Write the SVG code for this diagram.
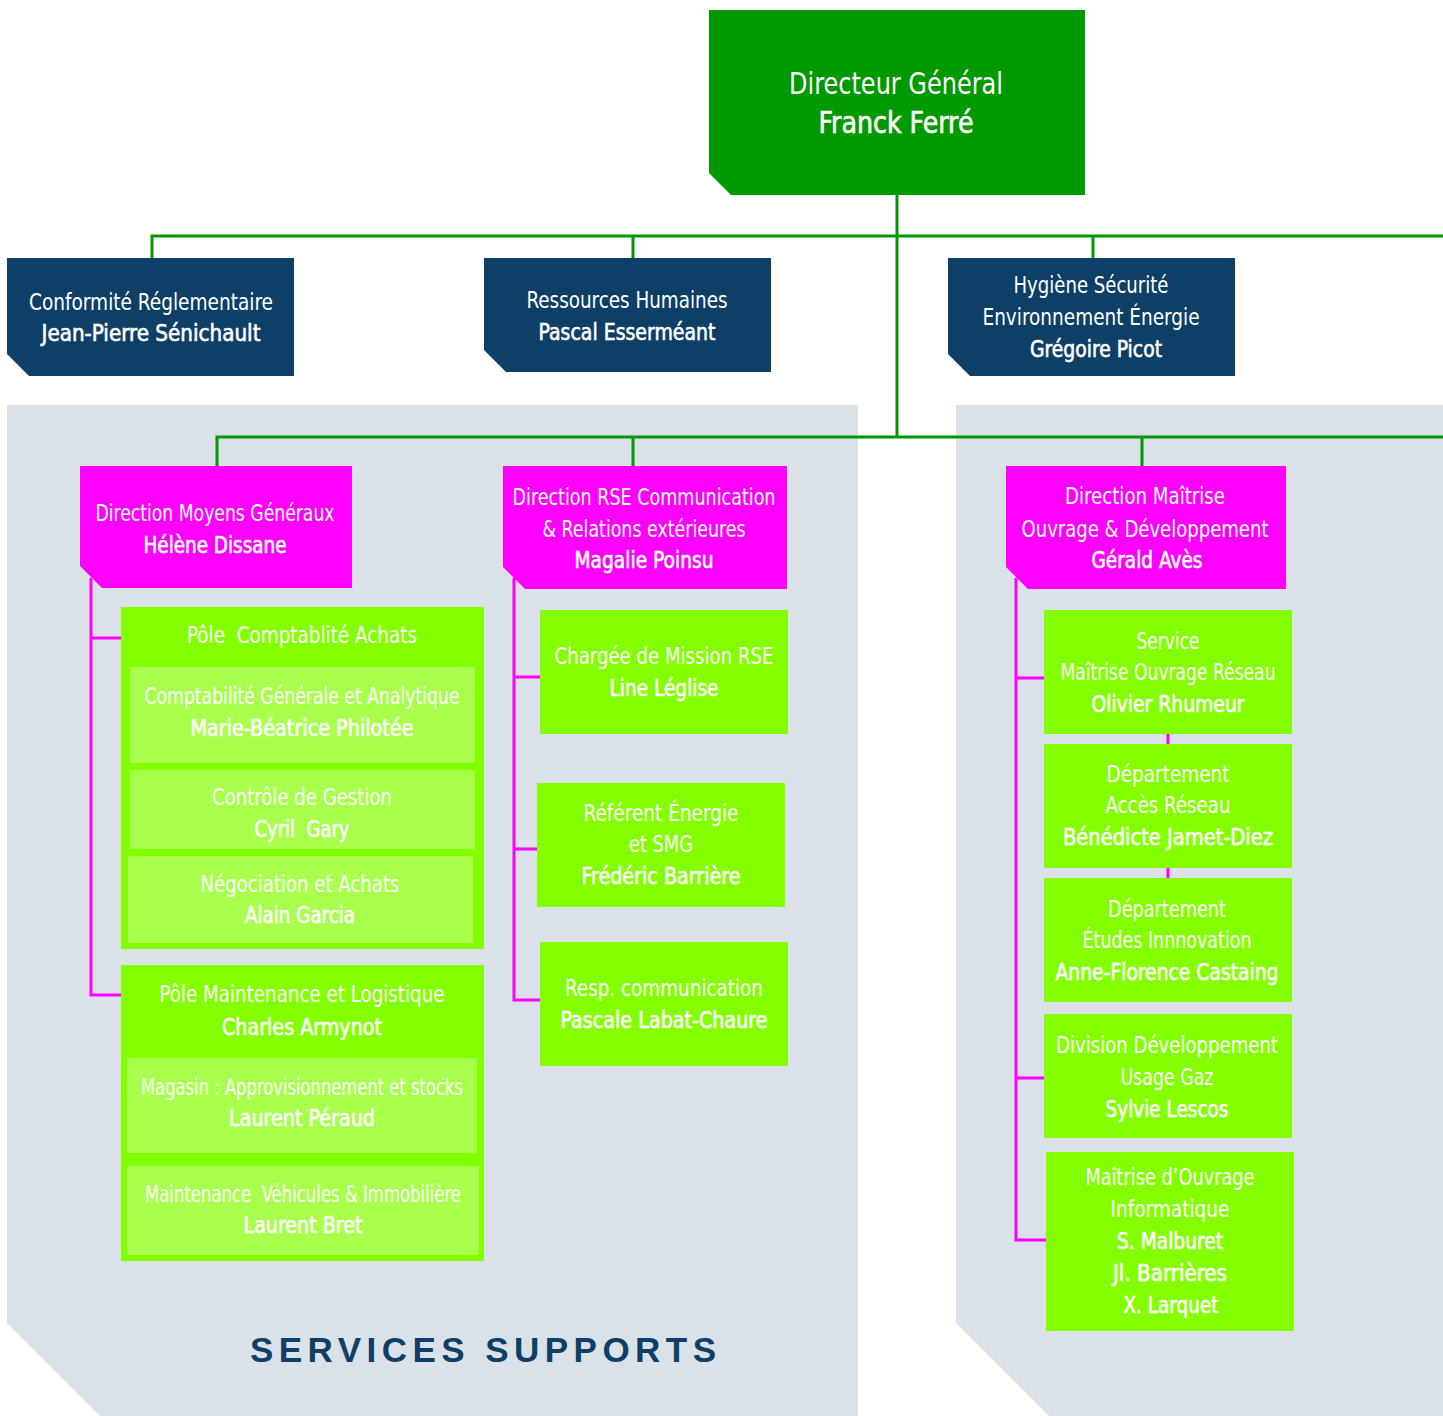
<svg xmlns="http://www.w3.org/2000/svg" width="1443" height="1416" viewBox="0 0 1443 1416">
<defs><style>
.t{font-family:'Liberation Sans Narrow','DejaVu Sans Condensed','Liberation Sans',Arial,sans-serif;font-size:23px;fill:#fff;text-anchor:middle}
.b{stroke:#fff;stroke-width:0.6px}
.big{font-size:30px}
.g1{fill:#009900}
.nv{fill:#0e3f66}
.mg{fill:#ff00ff}
.lg{fill:#84ff00}
.lt{fill:#a8ff4c}
.panel{fill:#dae1e8}
.cg{stroke:#009900;stroke-width:3;fill:none}
.cm{stroke:#ff00ff;stroke-width:3;fill:none}
.ss{font-family:'Liberation Sans',Arial,sans-serif;font-weight:bold;font-size:35px;fill:#0e3f66;text-anchor:middle}
</style></defs>
<rect width="1443" height="1416" fill="#ffffff"/>
<g id="panels">
<path class="panel" d="M7 405 H858 V1416 H100 L7 1323 Z"/>
<path class="panel" d="M956 405 H1443 V1416 H1049 L956 1323 Z"/>
<text class="ss" x="483" y="1362" textLength="466" lengthAdjust="spacing">SERVICES SUPPORTS</text>
</g>
<g id="connectors">
<path class="cg" d="M897 195 V437 M152 258 V236 H1443 M633 236 V258 M1093 236 V258 M217 466 V437 H1443 M633 437 V466 M1142 437 V466"/>
<path class="cm" d="M91 578 V995 H121 M91 638 H121"/>
<path class="cm" d="M514 578 V1000 H540 M514 677 H540 M514 849 H537"/>
<path class="cm" d="M1016 578 V1240 H1046 M1016 678 H1044 M1016 1078 H1044"/>
<path class="cm" d="M1168 733 V745 M1168 867 V879"/>
</g>
<g id="dg">
<path class="g1" d="M709 10 H1085 V195 H731 L709 173 Z"/>
<text class="t big" x="896" y="94" textLength="214" lengthAdjust="spacingAndGlyphs">Directeur Général</text>
<text class="t big b" x="896" y="133" textLength="155" lengthAdjust="spacingAndGlyphs">Franck Ferré</text>
</g>
<g id="conformite">
<path class="nv" d="M7 258 H294 V376 H29 L7 354 Z"/>
<text class="t" x="151" y="310" textLength="244" lengthAdjust="spacingAndGlyphs">Conformité Réglementaire</text>
<text class="t b" x="151" y="341" textLength="219" lengthAdjust="spacingAndGlyphs">Jean-Pierre Sénichault</text>
</g>
<g id="rh">
<path class="nv" d="M484 258 H771 V372 H506 L484 350 Z"/>
<text class="t" x="627" y="308" textLength="201" lengthAdjust="spacingAndGlyphs">Ressources Humaines</text>
<text class="t b" x="627" y="340" textLength="177" lengthAdjust="spacingAndGlyphs">Pascal Esserméant</text>
</g>
<g id="hse">
<path class="nv" d="M948 258 H1235 V376 H970 L948 354 Z"/>
<text class="t" x="1091" y="293" textLength="155" lengthAdjust="spacingAndGlyphs">Hygiène Sécurité</text>
<text class="t" x="1091" y="325" textLength="217" lengthAdjust="spacingAndGlyphs">Environnement Énergie</text>
<text class="t b" x="1096" y="357" textLength="132" lengthAdjust="spacingAndGlyphs">Grégoire Picot</text>
</g>
<g id="dmg">
<path class="mg" d="M80 466 H352 V588 H102 L80 566 Z"/>
<text class="t" x="215" y="521" textLength="239" lengthAdjust="spacingAndGlyphs">Direction Moyens Généraux</text>
<text class="t b" x="215" y="553" textLength="143" lengthAdjust="spacingAndGlyphs">Hélène Dissane</text>
</g>
<g id="drse">
<path class="mg" d="M503 466 H787 V589 H525 L503 567 Z"/>
<text class="t" x="644" y="505" textLength="263" lengthAdjust="spacingAndGlyphs">Direction RSE Communication</text>
<text class="t" x="644" y="537" textLength="203" lengthAdjust="spacingAndGlyphs">&amp; Relations extérieures</text>
<text class="t b" x="644" y="568" textLength="139" lengthAdjust="spacingAndGlyphs">Magalie Poinsu</text>
</g>
<g id="dmod">
<path class="mg" d="M1006 466 H1286 V589 H1028 L1006 567 Z"/>
<text class="t" x="1145" y="504" textLength="160" lengthAdjust="spacingAndGlyphs">Direction Maîtrise</text>
<text class="t" x="1145" y="537" textLength="247" lengthAdjust="spacingAndGlyphs">Ouvrage &amp; Développement</text>
<text class="t b" x="1147" y="568" textLength="111" lengthAdjust="spacingAndGlyphs">Gérald Avès</text>
</g>
<g id="pole-compta">
<rect class="lg" x="121" y="607" width="363" height="342"/>
<text class="t" x="302" y="643" textLength="230" lengthAdjust="spacingAndGlyphs" xml:space="preserve">Pôle  Comptablité Achats</text>
<rect class="lt" x="130" y="667" width="345" height="96"/>
<text class="t" x="302" y="704" textLength="315" lengthAdjust="spacingAndGlyphs">Comptabilité Générale et Analytique</text>
<text class="t b" x="302" y="736" textLength="223" lengthAdjust="spacingAndGlyphs">Marie-Béatrice Philotée</text>
<rect class="lt" x="130" y="770" width="345" height="79"/>
<text class="t" x="302" y="805" textLength="180" lengthAdjust="spacingAndGlyphs">Contrôle de Gestion</text>
<text class="t b" x="302" y="837" textLength="95" lengthAdjust="spacingAndGlyphs" xml:space="preserve">Cyril  Gary</text>
<rect class="lt" x="128" y="856" width="345" height="87"/>
<text class="t" x="300" y="892" textLength="199" lengthAdjust="spacingAndGlyphs">Négociation et Achats</text>
<text class="t b" x="300" y="923" textLength="110" lengthAdjust="spacingAndGlyphs">Alain Garcia</text>
</g>
<g id="pole-maint">
<rect class="lg" x="121" y="965" width="363" height="296"/>
<text class="t" x="302" y="1002" textLength="285" lengthAdjust="spacingAndGlyphs">Pôle Maintenance et Logistique</text>
<text class="t b" x="302" y="1035" textLength="160" lengthAdjust="spacingAndGlyphs">Charles Armynot</text>
<rect class="lt" x="127" y="1058" width="350" height="95"/>
<text class="t" x="302" y="1095" textLength="322" lengthAdjust="spacingAndGlyphs">Magasin : Approvisionnement et stocks</text>
<text class="t b" x="302" y="1126" textLength="146" lengthAdjust="spacingAndGlyphs">Laurent Péraud</text>
<rect class="lt" x="127" y="1166" width="352" height="89"/>
<text class="t" x="303" y="1202" textLength="316" lengthAdjust="spacingAndGlyphs" xml:space="preserve">Maintenance  Véhicules &amp; Immobilière</text>
<text class="t b" x="303" y="1233" textLength="119" lengthAdjust="spacingAndGlyphs">Laurent Bret</text>
</g>
<g id="mission-rse">
<rect class="lg" x="540" y="610" width="248" height="124"/>
<text class="t" x="664" y="664" textLength="219" lengthAdjust="spacingAndGlyphs">Chargée de Mission RSE</text>
<text class="t b" x="664" y="696" textLength="109" lengthAdjust="spacingAndGlyphs">Line Léglise</text>
</g>
<g id="referent-energie">
<rect class="lg" x="537" y="783" width="248" height="124"/>
<text class="t" x="661" y="821" textLength="155" lengthAdjust="spacingAndGlyphs">Référent Énergie</text>
<text class="t" x="661" y="852" textLength="64" lengthAdjust="spacingAndGlyphs">et SMG</text>
<text class="t b" x="661" y="884" textLength="159" lengthAdjust="spacingAndGlyphs">Frédéric Barrière</text>
</g>
<g id="resp-com">
<rect class="lg" x="540" y="942" width="248" height="124"/>
<text class="t" x="664" y="996" textLength="198" lengthAdjust="spacingAndGlyphs">Resp. communication</text>
<text class="t b" x="664" y="1028" textLength="207" lengthAdjust="spacingAndGlyphs">Pascale Labat-Chaure</text>
</g>
<g id="service-mor">
<rect class="lg" x="1044" y="610" width="248" height="124"/>
<text class="t" x="1168" y="649" textLength="63" lengthAdjust="spacingAndGlyphs">Service</text>
<text class="t" x="1168" y="680" textLength="215" lengthAdjust="spacingAndGlyphs">Maîtrise Ouvrage Réseau</text>
<text class="t b" x="1168" y="712" textLength="153" lengthAdjust="spacingAndGlyphs">Olivier Rhumeur</text>
</g>
<g id="dep-acces">
<rect class="lg" x="1044" y="744" width="248" height="124"/>
<text class="t" x="1168" y="782" textLength="123" lengthAdjust="spacingAndGlyphs">Département</text>
<text class="t" x="1168" y="813" textLength="125" lengthAdjust="spacingAndGlyphs">Accès Réseau</text>
<text class="t b" x="1168" y="845" textLength="210" lengthAdjust="spacingAndGlyphs">Bénédicte Jamet-Diez</text>
</g>
<g id="dep-etudes">
<rect class="lg" x="1044" y="878" width="248" height="124"/>
<text class="t" x="1167" y="917" textLength="118" lengthAdjust="spacingAndGlyphs">Département</text>
<text class="t" x="1167" y="948" textLength="169" lengthAdjust="spacingAndGlyphs">Études Innnovation</text>
<text class="t b" x="1167" y="980" textLength="223" lengthAdjust="spacingAndGlyphs">Anne-Florence Castaing</text>
</g>
<g id="div-dev">
<rect class="lg" x="1044" y="1014" width="248" height="124"/>
<text class="t" x="1167" y="1053" textLength="222" lengthAdjust="spacingAndGlyphs">Division Développement</text>
<text class="t" x="1167" y="1085" textLength="93" lengthAdjust="spacingAndGlyphs">Usage Gaz</text>
<text class="t b" x="1167" y="1117" textLength="123" lengthAdjust="spacingAndGlyphs">Sylvie Lescos</text>
</g>
<g id="moa-info">
<rect class="lg" x="1046" y="1152" width="248" height="179"/>
<text class="t" x="1170" y="1185" textLength="169" lengthAdjust="spacingAndGlyphs">Maîtrise d’Ouvrage</text>
<text class="t" x="1170" y="1217" textLength="119" lengthAdjust="spacingAndGlyphs">Informatique</text>
<text class="t b" x="1170" y="1249" textLength="106" lengthAdjust="spacingAndGlyphs">S. Malburet</text>
<text class="t b" x="1170" y="1281" textLength="114" lengthAdjust="spacingAndGlyphs">Jl. Barrières</text>
<text class="t b" x="1171" y="1313" textLength="95" lengthAdjust="spacingAndGlyphs">X. Larquet</text>
</g>
</svg>
